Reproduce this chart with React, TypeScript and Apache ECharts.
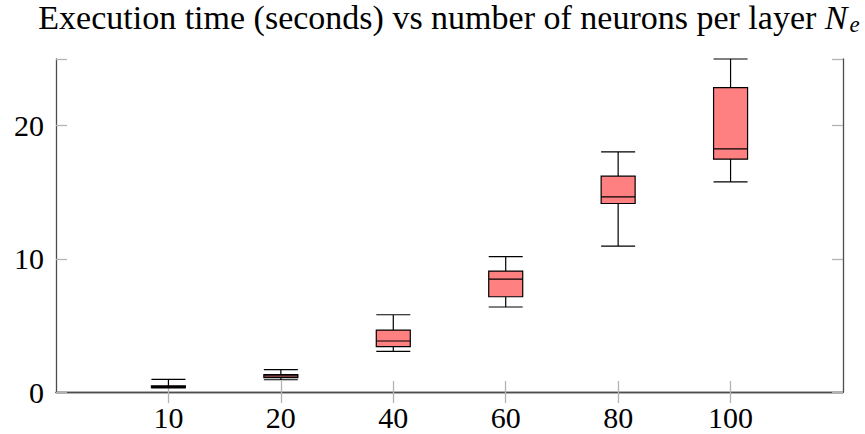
import React, { useEffect, useRef } from "react";
import * as echarts from "echarts";

const categories = ["0", "10", "20", "40", "60", "80", "100", "120"];
const shownLabels = ["10", "20", "40", "60", "80", "100"];
const mins = [0.3, 0.92, 3.05, 6.38, 10.95, 15.78];
const q1s = [0.33, 1.08, 3.4, 7.15, 14.15, 17.48];
const medians = [0.4, 1.2, 3.83, 8.48, 14.65, 18.25];
const q3s = [0.47, 1.3, 4.65, 9.08, 16.2, 22.85];
const maxs = [0.95, 1.68, 5.8, 10.17, 18.03, 25];
const yTicks = [0, 10, 20];

const FONT = "Liberation Serif";

export default function App() {
  const ref = useRef<HTMLDivElement>(null);
  useEffect(() => {
    if (!ref.current) return;
    const chart = echarts.init(ref.current, undefined, { renderer: "svg" });
    const source = shownLabels.map((c, i) => [c, mins[i], q1s[i], medians[i], q3s[i], maxs[i]]);
    const showIdx = (i: number) => i >= 1 && i <= 6;
    const frame = { show: true, lineStyle: { color: "#4d4d4d", width: 1.3 } };
    const tick = { show: true, inside: true, length: 11, lineStyle: { color: "#b3b3b3", width: 1.3 } };
    chart.setOption({
      animation: false,
      title: {
        text: "{t|Execution time (seconds) vs number of neurons per layer }{n|N}{e|e}",
        left: 449,
        textAlign: "center",
        top: 2,
        padding: 0,
        textStyle: {
          fontWeight: "normal",
          rich: {
            t: { fontFamily: FONT, fontSize: 34, fontWeight: "normal", color: "#000", lineHeight: 30 },
            n: { fontFamily: FONT, fontSize: 34, fontWeight: "normal", fontStyle: "italic", color: "#000", lineHeight: 30 },
            e: {
              fontFamily: FONT,
              fontSize: 23,
              fontWeight: "normal",
              fontStyle: "italic",
              color: "#000",
              lineHeight: 15,
              padding: [15, 0, 0, 2],
            },
          },
        },
      },
      grid: { left: 56, right: 22, top: 59, bottom: 42 },
      dataset: { source },
      xAxis: [
        {
          type: "category",
          data: categories,
          boundaryGap: false,
          axisLine: frame,
          axisTick: { ...tick, interval: (i: number) => showIdx(i) },
          axisLabel: {
            interval: (i: number) => showIdx(i),
            fontFamily: FONT,
            fontSize: 30,
            color: "#000",
            margin: 10,
          },
          splitLine: { show: false },
        },
        {
          type: "category",
          data: categories,
          boundaryGap: false,
          position: "top",
          axisLine: frame,
          axisTick: { ...tick, interval: (i: number) => showIdx(i) },
          axisLabel: { show: false },
          splitLine: { show: false },
        },
      ],
      yAxis: [
        {
          type: "value",
          min: 0,
          max: 25,
          interval: 10,
          axisLine: frame,
          axisTick: tick,
          axisLabel: {
            fontFamily: FONT,
            fontSize: 30,
            color: "#000",
            margin: 12,
            formatter: (v: number) => (yTicks.includes(v) ? String(v) : ""),
          },
          splitLine: { show: false },
        },
        {
          type: "value",
          min: 0,
          max: 25,
          interval: 10,
          position: "right",
          axisLine: frame,
          axisTick: tick,
          axisLabel: { show: false },
          splitLine: { show: false },
        },
      ],
      series: [
        {
          type: "boxplot",
          xAxisIndex: 0,
          yAxisIndex: 0,
          encode: { x: 0, y: [1, 2, 3, 4, 5] },
          boxWidth: [34, 34],
          itemStyle: { color: "#ff8080", borderColor: "#000", borderWidth: 1.2 },
        },
      ],
    });
    return () => chart.dispose();
  }, []);
  return (
    <div
      ref={ref}
      style={{ position: "fixed", left: 0, top: 0, width: 865, height: 434, background: "#fff" }}
    />
  );
}
